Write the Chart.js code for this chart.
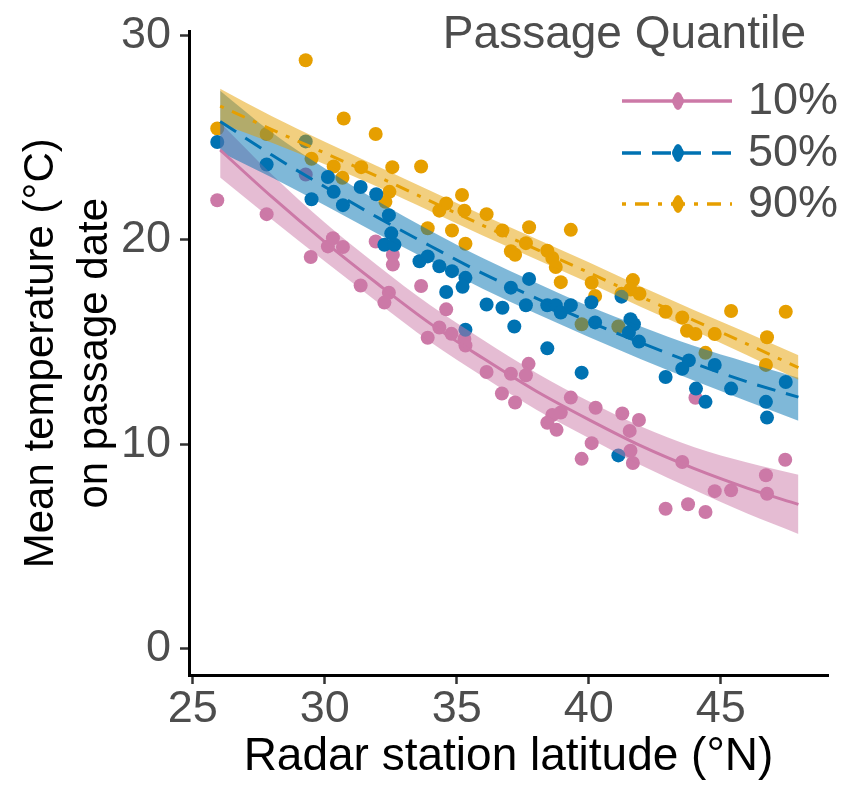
<!DOCTYPE html>
<html><head><meta charset="utf-8">
<script src="https://cdn.jsdelivr.net/npm/chart.js@4.4.0/dist/chart.umd.min.js"></script>
<style>html,body{margin:0;padding:0;background:#fff}#wrap{width:849px;height:787px}</style>
</head><body><div id="wrap"><canvas id="c" width="849" height="787"></canvas></div>
<script>
// ---- data ----
const xTicks = [25, 30, 35, 40, 45];
const yTicks = [0, 10, 20, 30];
const seriesLabels = ['10%', '50%', '90%'];

const lat10 = [25.93, 27.80, 29.28, 29.47, 30.31, 30.12, 30.69, 31.36, 32.43, 32.26, 31.93, 32.58, 32.58, 33.65, 34.60, 34.34, 33.90, 34.80, 35.29, 35.33, 36.13, 37.05, 37.72, 37.62, 36.71, 37.21, 39.32, 40.26, 38.62, 38.94, 38.43, 38.78, 40.11, 39.73, 41.27, 41.90, 41.55, 41.58, 41.67, 43.54, 44.77, 45.39, 42.91, 43.76, 44.42, 47.44, 46.71, 46.75, 44.04];
const temp10 = [21.94, 21.26, 23.20, 19.16, 20.08, 19.68, 19.65, 17.77, 17.41, 16.93, 19.92, 18.79, 19.27, 17.74, 16.60, 15.71, 15.21, 15.40, 15.15, 14.83, 13.53, 13.45, 13.93, 13.37, 12.48, 12.04, 12.28, 11.78, 11.43, 11.55, 11.05, 10.70, 10.05, 9.28, 11.50, 11.18, 10.65, 9.68, 9.08, 9.13, 7.70, 7.74, 6.84, 7.06, 6.68, 9.24, 8.48, 7.57, 12.27];

const lat50 = [25.93, 27.80, 29.28, 29.50, 30.34, 30.69, 31.36, 31.95, 32.43, 32.52, 32.26, 32.64, 33.59, 33.90, 34.34, 34.82, 35.33, 35.22, 34.60, 36.13, 36.73, 37.05, 37.74, 37.62, 37.18, 38.43, 38.75, 38.94, 39.32, 40.10, 40.24, 35.33, 38.43, 39.73, 41.24, 41.58, 41.71, 41.52, 41.90, 42.91, 43.79, 43.54, 44.77, 44.06, 44.42, 45.39, 47.46, 46.71, 46.75, 41.12, 30.12];
const temp50 = [24.79, 23.69, 24.82, 21.99, 22.35, 21.70, 22.59, 22.23, 21.21, 20.32, 19.76, 19.76, 18.95, 19.19, 18.71, 18.47, 18.14, 17.70, 17.45, 16.84, 16.68, 17.66, 18.09, 16.80, 15.76, 16.80, 16.80, 16.44, 16.80, 16.95, 15.96, 15.60, 14.69, 13.50, 17.22, 16.12, 15.87, 15.47, 15.02, 13.29, 14.10, 13.69, 13.88, 12.72, 12.07, 12.72, 13.04, 12.07, 11.30, 9.45, 23.08];

const lat90 = [25.93, 27.80, 29.28, 30.72, 31.93, 30.34, 31.38, 32.56, 32.45, 30.67, 29.50, 33.65, 35.20, 34.60, 34.34, 35.29, 36.13, 33.90, 34.82, 35.33, 36.73, 37.74, 39.32, 37.62, 37.05, 37.21, 38.43, 38.62, 38.75, 38.94, 40.11, 40.24, 39.73, 41.67, 41.58, 41.24, 41.92, 42.91, 43.54, 43.72, 44.04, 44.77, 45.39, 46.75, 47.46, 44.42, 46.71, 41.12, 32.30];
const temp90 = [25.45, 25.18, 28.79, 25.94, 25.18, 23.59, 23.56, 23.56, 22.35, 23.04, 23.97, 23.59, 22.20, 21.78, 21.43, 21.43, 21.26, 20.57, 20.46, 19.81, 20.46, 20.62, 20.49, 19.84, 19.44, 19.27, 19.47, 19.11, 18.67, 17.93, 17.90, 17.25, 15.87, 18.03, 17.57, 17.36, 17.36, 16.48, 16.20, 15.55, 15.39, 15.39, 16.52, 15.23, 16.48, 14.47, 13.88, 15.76, 21.86];

// fitted curves and confidence ribbons
const fitLat = [26.04, 28, 30, 32, 34, 36, 38, 40, 42, 44, 46, 47.94];
const fit10 = [24.4, 22.1, 19.9, 17.85, 15.9, 14.2, 12.6, 11.2, 9.9, 8.8, 7.85, 7.05];
const lo10  = [23.05, 21.0, 18.95, 16.95, 15.0, 13.3, 11.7, 10.3, 8.95, 7.75, 6.6, 5.6];
const hi10  = [25.75, 23.2, 20.85, 18.75, 16.8, 15.1, 13.5, 12.1, 10.85, 9.85, 9.1, 8.5];
const fit50 = [25.8, 24.15, 22.6, 21.1, 19.7, 18.35, 17.15, 16.0, 14.95, 13.95, 13.05, 12.3];
const lo50  = [24.3, 23.05, 21.7, 20.3, 18.95, 17.6, 16.4, 15.25, 14.15, 13.1, 12.1, 11.15];
const hi50  = [27.3, 25.25, 23.5, 21.9, 20.45, 19.1, 17.9, 16.75, 15.75, 14.8, 14.0, 13.25];
const fit90 = [26.55, 25.4, 24.25, 23.1, 21.9, 20.7, 19.55, 18.4, 17.2, 16.05, 14.9, 13.75];
const lo90  = [25.7, 24.75, 23.7, 22.6, 21.4, 20.2, 19.05, 17.9, 16.7, 15.55, 14.35, 13.15];
const hi90  = [27.4, 26.05, 24.8, 23.6, 22.4, 21.2, 20.05, 18.9, 17.7, 16.55, 15.45, 14.35];

// ---- styling ----
const FONT = "'Liberation Sans', Arial, Helvetica, sans-serif";
const C10 = '#CC79A7', C50 = '#0072B2', C90 = '#E69F00';
const F10 = 'rgba(204,121,167,0.5)', F50 = 'rgba(0,114,178,0.5)', F90 = 'rgba(230,159,0,0.5)';
const DASH10 = [], DASH50 = [19, 11], DASH90 = [4, 9, 14, 9];
const GREY = '#4D4D4D';

function pts(xs, ys) { return xs.map((x, i) => ({x: x, y: ys[i]})); }
function scatter(xs, ys, col, order) {
  return {type: 'scatter', data: pts(xs, ys), backgroundColor: col, borderWidth: 0,
          pointRadius: 7, pointHoverRadius: 7, order: order};
}
function edge(ys, fill, col, order) {
  return {type: 'line', data: pts(fitLat, ys), borderWidth: 0, borderColor: 'rgba(0,0,0,0)',
          pointRadius: 0, fill: fill, backgroundColor: col, order: order,
          cubicInterpolationMode: 'monotone'};
}
function fitLine(ys, col, dash, order) {
  return {type: 'line', data: pts(fitLat, ys), borderColor: col, borderWidth: 3, borderDash: dash,
          pointRadius: 0, fill: false, order: order, cubicInterpolationMode: 'monotone'};
}

const datasets = [
  scatter(lat50, temp50, C50, 20),
  scatter(lat90, temp90, C90, 21),
  scatter(lat10, temp10, C10, 22),
  edge(hi10, false, F10, 12), edge(lo10, '-1', F10, 12),
  edge(hi50, false, F50, 11), edge(lo50, '-1', F50, 11),
  edge(hi90, false, F90, 10), edge(lo90, '-1', F90, 10),
  fitLine(fit10, C10, DASH10, 3),
  fitLine(fit50, C50, DASH50, 2),
  fitLine(fit90, C90, DASH90, 1)
];

const legendPlugin = {
  id: 'ggLegend',
  afterDraw(chart) {
    const ctx = chart.ctx;
    ctx.save();
    ctx.fillStyle = GREY;
    ctx.font = '46px ' + FONT;
    ctx.textAlign = 'right';
    ctx.textBaseline = 'alphabetic';
    ctx.fillText('Passage Quantile', 806, 48);
    const rows = [101, 153, 204];
    const cols = [C10, C50, C90];
    const dashes = [DASH10, DASH50, DASH90];
    for (let i = 0; i < 3; i++) {
      const y = rows[i];
      ctx.strokeStyle = cols[i];
      ctx.lineWidth = 3.5;
      ctx.setLineDash(dashes[i]);
      ctx.beginPath(); ctx.moveTo(622, y); ctx.lineTo(732, y); ctx.stroke();
      ctx.setLineDash([]);
      ctx.fillStyle = cols[i];
      ctx.beginPath(); ctx.ellipse(678, y, 5, 9, 0, 0, Math.PI * 2); ctx.fill();
      ctx.beginPath(); ctx.arc(678, y, 6, 0, Math.PI * 2); ctx.fill();
      ctx.fillStyle = GREY;
      ctx.font = '45px ' + FONT;
      ctx.textAlign = 'left';
      ctx.textBaseline = 'middle';
      ctx.fillText(seriesLabels[i], 748, y + 1);
    }
    ctx.restore();
  }
};

new Chart(document.getElementById('c'), {
  data: {datasets: datasets},
  plugins: [legendPlugin],
  options: {
    responsive: false,
    animation: false,
    events: [],
    layout: {padding: {top: 27, right: 21, left: 0, bottom: 0}},
    plugins: {legend: {display: false}, tooltip: {enabled: false}},
    scales: {
      x: {
        type: 'linear', position: 'bottom', min: 24.86, max: 49.06,
        afterBuildTicks: s => { s.ticks = xTicks.map(v => ({value: v})); },
        afterFit: s => { s.height = 112; },
        ticks: {font: {family: FONT, size: 45, lineHeight: 1.1}, color: GREY, padding: 1, maxRotation: 0},
        grid: {drawOnChartArea: false, drawTicks: true, tickLength: 9, tickColor: '#333', tickWidth: 2.5},
        border: {display: true, color: '#000', width: 3},
        title: {display: true, text: 'Radar station latitude (°N)', color: '#000',
                font: {family: FONT, size: 46, lineHeight: 1.2}, padding: {top: 0, bottom: 2}}
      },
      y: {
        type: 'linear', position: 'left', min: -1.3, max: 30.2,
        afterBuildTicks: s => { s.ticks = yTicks.map(v => ({value: v})); },
        afterFit: s => { s.width = 189; },
        ticks: {font: {family: FONT, size: 45, lineHeight: 1.0}, color: GREY, padding: 9},
        grid: {drawOnChartArea: false, drawTicks: true, tickLength: 9, tickColor: '#333', tickWidth: 2.5},
        border: {display: true, color: '#000', width: 3},
        title: {display: true, text: ['Mean temperature (°C)', 'on passage date'], color: '#000',
                font: {family: FONT, size: 42, lineHeight: 1.3}, padding: {top: 14, bottom: 0}}
      }
    }
  }
});
</script></body></html>
